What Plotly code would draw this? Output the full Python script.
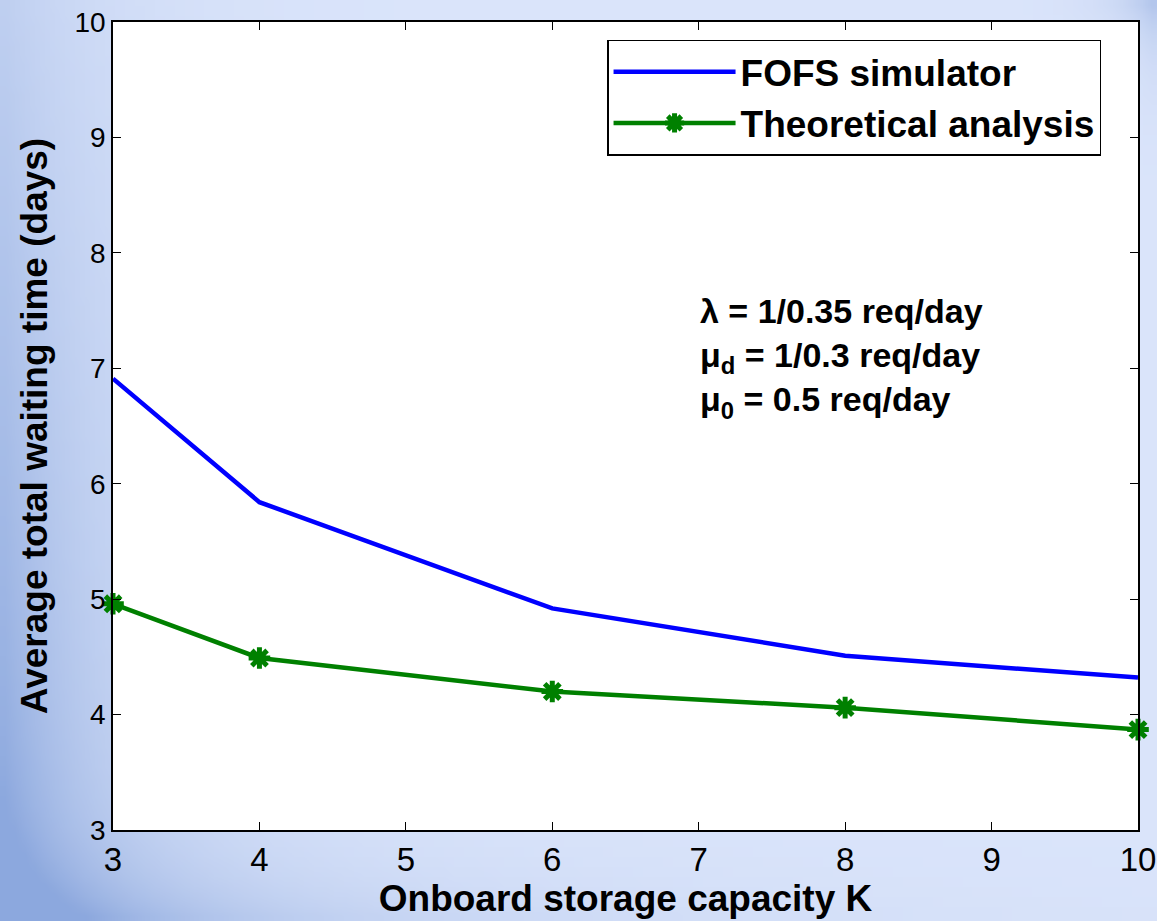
import base64, math, struct, zlib
import plotly.graph_objects as go

K = [3, 4, 6, 8, 10]
fofs_sim = [6.91, 5.84, 4.92, 4.51, 4.32]
theory = [4.96, 4.49, 4.20, 4.06, 3.87]
x_ticks = [3, 4, 5, 6, 7, 8, 9, 10]
y_ticks = [3, 4, 5, 6, 7, 8, 9, 10]

FONT = "Liberation Sans, Arial, sans-serif"


# ---- decorative slide background (bluish gradient), built as a small PNG ----
def gradient_png(w=116, h=92):
    light = (219, 229, 251)
    dark = (140, 168, 222)
    rows = []
    for j in range(h):
        fy = j / (h - 1)
        row = bytearray([0])
        for i in range(w):
            fx = i / (w - 1)
            wl = math.exp(-fx / 0.10) * (0.35 + 0.65 * fy)
            wb = math.exp(-(1 - fy) / 0.06) * math.exp(-fx / 0.35) * 0.6
            wt = math.exp(-(1 - fx) / 0.03) * math.exp(-fy / 0.05) * 0.5
            wgt = min(1.0, wl + wb + wt)
            for c in range(3):
                row.append(int(light[c] + (dark[c] - light[c]) * wgt))
        rows.append(bytes(row))
    raw = b"".join(rows)

    def chunk(tag, data):
        return (struct.pack(">I", len(data)) + tag + data +
                struct.pack(">I", zlib.crc32(tag + data) & 0xffffffff))

    png = b"\x89PNG\r\n\x1a\n"
    png += chunk(b"IHDR", struct.pack(">IIBBBBB", w, h, 8, 2, 0, 0, 0))
    png += chunk(b"IDAT", zlib.compress(raw, 9))
    png += chunk(b"IEND", b"")
    return "data:image/png;base64," + base64.b64encode(png).decode()


W, H = 1157, 921
ML, MR, MT, MB = 113, 19, 22, 91
PW, PH = W - ML - MR, H - MT - MB

fig = go.Figure()
fig.add_trace(go.Scatter(
    x=K, y=fofs_sim, mode="lines", name="FOFS simulator",
    line=dict(color="#0000ff", width=4.5),
))
fig.add_trace(go.Scatter(
    x=K, y=theory, mode="lines+markers", name="Theoretical analysis",
    line=dict(color="#008000", width=4.5),
    marker=dict(symbol="asterisk-open", size=18, color="#008000",
                line=dict(color="#008000", width=5)),
    cliponaxis=False,
))

fig.update_layout(
    width=W, height=H,
    margin=dict(l=ML, r=MR, t=MT, b=MB, autoexpand=False),
    paper_bgcolor="#dbe5fb",
    plot_bgcolor="#ffffff",
    images=[dict(
        source=gradient_png(), xref="paper", yref="paper",
        x=-ML / PW, y=1 + MT / PH, sizex=W / PW, sizey=H / PH,
        xanchor="left", yanchor="top", sizing="stretch", layer="below",
    )],
    shapes=[dict(type="rect", xref="paper", yref="paper", x0=0, x1=1, y0=0, y1=1,
                 fillcolor="#ffffff", line=dict(width=0), layer="below")],
    showlegend=True,
    legend=dict(
        x=0.482, y=0.978, xanchor="left", yanchor="top",
        bgcolor="#ffffff", bordercolor="#000000", borderwidth=1.5,
        font=dict(family=FONT, size=37, color="#000000", weight="bold"),
        itemwidth=122, tracegroupgap=0,
    ),
    annotations=[dict(
        xref="paper", yref="paper", x=0.571, y=0.668,
        xanchor="left", yanchor="top", align="left", showarrow=False,
        text="λ = 1/0.35 req/day<br>μ<sub>d</sub> = 1/0.3 req/day<br>μ<sub>0</sub> = 0.5 req/day",
        font=dict(family=FONT, size=34, color="#000000", weight="bold"),
    )],
)

fig.update_xaxes(
    range=[3, 10], tickvals=x_ticks, ticks="inside", ticklen=8, tickwidth=1,
    tickcolor="#000000", showline=True, linecolor="#000000", linewidth=1.5,
    mirror="ticks", showgrid=False, zeroline=False,
    ticklabeloverflow="allow",
    tickfont=dict(family=FONT, size=33, color="#000000"),
    title=dict(text="Onboard storage capacity K", standoff=6,
               font=dict(family=FONT, size=37, color="#000000", weight="bold")),
)
fig.update_yaxes(
    range=[3, 10], tickvals=y_ticks, ticks="inside", ticklen=8, tickwidth=1,
    tickcolor="#000000", showline=True, linecolor="#000000", linewidth=1.5,
    mirror="ticks", showgrid=False, zeroline=False,
    tickfont=dict(family=FONT, size=28, color="#000000"),
    title=dict(text="Average total waiting time (days)", standoff=16,
               font=dict(family=FONT, size=37, color="#000000", weight="bold")),
)

fig.write_html("out.html")
